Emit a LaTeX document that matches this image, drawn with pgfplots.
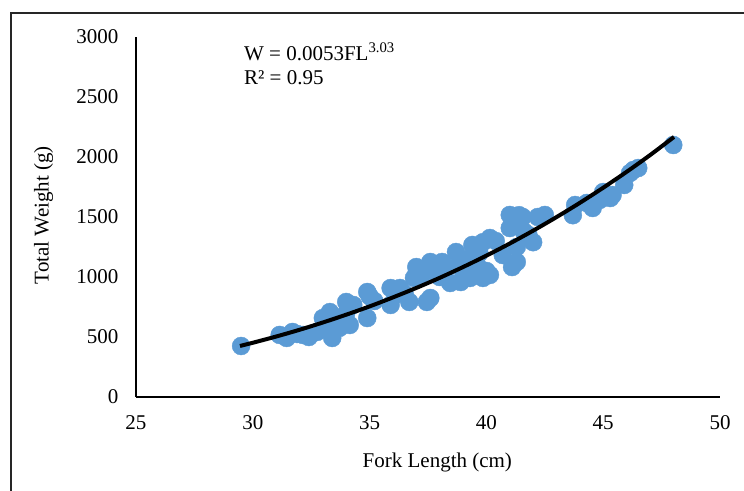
\documentclass[border=0pt]{standalone}
\usepackage{fontspec}
\setmainfont{Liberation Serif}
\usepackage{pgfplots}
\pgfplotsset{compat=1.18}
\definecolor{ptblue}{RGB}{91,155,213}

\begin{document}
\begin{tikzpicture}[font=\fontsize{21bp}{25bp}\selectfont]
\begin{axis}[
    scale only axis, width=584bp, height=360bp,
    xmin=25, xmax=50, ymin=0, ymax=3000,
    xtick={25,30,...,50}, ytick={0,500,...,3000},
    axis x line=bottom, axis y line=left,
    axis line style={line width=1.5bp, -},
    major tick length=0pt,
    /pgf/number format/assume math mode=true,
    /pgf/number format/1000 sep={},
    yticklabel style={xshift=-14bp},
    xticklabel style={yshift=-15bp},
    xlabel={Fork Length (cm)},
    ylabel={Total Weight (g)},
    xlabel style={at={(axis description cs:0.516,-0.182)}, anchor=center},
    ylabel style={at={(axis description cs:-0.158,0.505)}, anchor=center},
    clip marker paths=true,
]
% observations
\addplot[only marks, mark=*, mark size=9bp, color=ptblue] coordinates {
    (29.5,425) (31.15,517) (31.45,492) (31.7,542) (31.9,525) (32.15,517)
    (32.4,500) (32.75,542) (33.0,658) (33.1,600) (33.3,708) (33.4,492)
    (33.5,620) (33.7,575) (33.8,650) (34.0,792) (34.15,600) (34.2,760)
    (34.3,767) (34.0,700) (34.9,875) (34.9,658) (35.0,840) (35.2,800)
    (35.9,908) (35.9,767) (36.1,850) (36.3,908) (36.5,860) (36.7,792)
    (36.9,992) (37.0,1083) (37.2,1000) (37.45,792) (37.6,825) (37.6,1125)
    (37.4,1050) (37.8,1040) (38.1,1125) (38.0,1000) (38.45,950) (38.3,1080)
    (38.7,1208) (38.9,958) (38.8,1100) (39.0,1050) (39.3,992) (39.4,1267)
    (39.2,1150) (39.6,1100) (39.85,992) (39.85,1290) (39.7,1200) (40.0,1050)
    (40.15,1017) (40.15,1325) (40.4,1300) (40.7,1183) (41.0,1517) (41.0,1408)
    (41.1,1083) (41.3,1125) (41.4,1515) (41.3,1250) (41.55,1500) (41.6,1380)
    (41.8,1350) (42.0,1290) (42.2,1500) (42.5,1517) (43.7,1515) (43.8,1600)
    (44.3,1617) (44.55,1575) (44.85,1642) (45.0,1708) (45.3,1658) (45.4,1683)
    (45.9,1767) (46.15,1867) (46.3,1892) (46.5,1908) (48.0,2100)
};
% power trend line
\addplot[black, line width=4bp, smooth] coordinates {
    (29.45,425) (30,452) (31,504) (32,560) (33,621) (34,686) (35,755)
    (36,830) (37,909) (38,993) (39,1083) (40,1178) (41,1279) (42,1386)
    (43,1499) (44,1618) (45,1744) (46,1876) (47,2015) (48.03,2167)
};
\node[anchor=west, inner sep=0pt] at (axis cs:29.62,2875) {W = 0.0053FL\textsuperscript{3.03}};
\node[anchor=west, inner sep=0pt] at (axis cs:29.62,2658) {R² = 0.95};
\end{axis}
\draw[line width=1.5bp, black!85] (-125bp,-130bp) rectangle (640bp,384bp);
\pgfresetboundingbox
\useasboundingbox (-136bp,-94bp) rectangle (608bp,397bp);
\end{tikzpicture}
\end{document}
